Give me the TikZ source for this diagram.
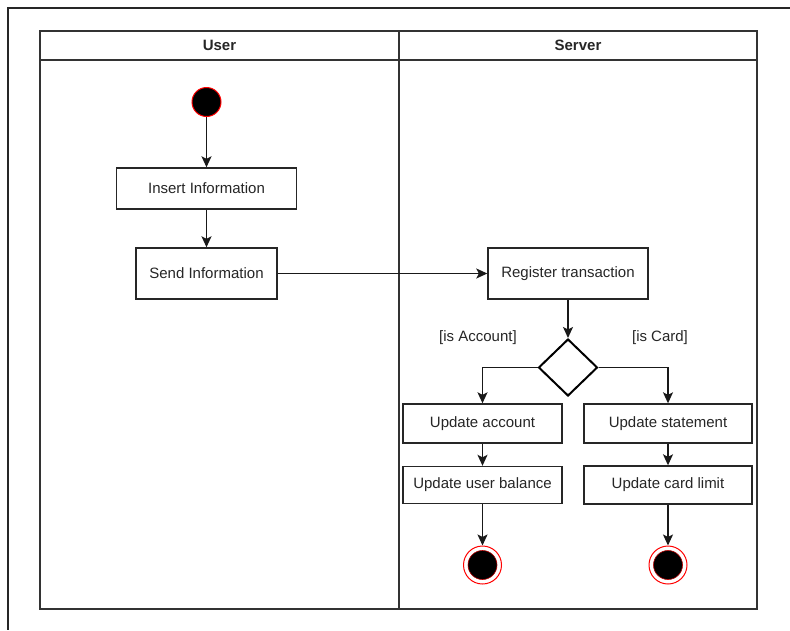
\documentclass[tikz,border=0pt]{standalone}
\usepackage{fontspec}
\setmainfont{Liberation Sans}
\usetikzlibrary{arrows.meta,shapes.geometric}
\begin{document}
\begin{tikzpicture}[x=1pt,y=-1pt,
  every node/.style={font=\fontsize{15}{18}\selectfont, text=black!85},
  action/.style={draw=black!85, line width=1.4pt, fill=white, rectangle, inner sep=0pt},
  decision/.style={draw=black, line width=2pt, fill=white, diamond, inner sep=0pt,
    minimum width=59pt, minimum height=57pt},
  startstate/.style={circle, fill=black, draw=red, line width=1pt, inner sep=0pt, minimum size=29pt},
  endring/.style={circle, fill=white, draw=red, line width=1pt, inner sep=0pt, minimum size=38pt},
  endcore/.style={circle, fill=black, draw=red!70!black, line width=0.6pt, inner sep=0pt, minimum size=29pt},
  flow/.style={draw=black!90, line width=1.4pt, -{Stealth[length=11pt,width=10pt,inset=2.5pt]}},
  lane/.style={draw=black!80, line width=1.5pt},
  guard/.style={font=\fontsize{15}{18}\selectfont},
]
\useasboundingbox (0,0) rectangle (790,630);

% open frame along the top and left edges
\draw[black!85, line width=1.2pt] (790,8) -- (8,8) -- (8,630);

% swimlane pool
\draw[lane] (40,31) rectangle (757,609);
\draw[lane] (40,60) -- (757,60);
\draw[lane] (399,31) -- (399,609);
\node[font=\bfseries\fontsize{15}{18}\selectfont] (userlane) at (219.5,45.5) {User};
\node[font=\bfseries\fontsize{15}{18}\selectfont] (serverlane) at (578,45.5) {Server};

% user lane
\node[startstate] (start) at (206.5,102) {};
\node[action, minimum width=180pt, minimum height=41pt] (insert) at (206.5,188.5) {Insert Information};
\node[action, minimum width=141pt, minimum height=51pt] (send) at (206.5,273.5) {Send Information};

% server lane
\node[action, minimum width=160pt, minimum height=51pt] (register) at (568,273.5) {Register transaction};
\node[decision] (dec) at (568,367.5) {};
\node[guard] (gacct) at (478,338) {[is Account]};
\node[guard] (gcard) at (660,338) {[is Card]};
\node[action, minimum width=159pt, minimum height=39pt] (acct) at (482.5,423.5) {Update account};
\node[action, minimum width=168pt, minimum height=39pt] (stmt) at (668,423.5) {Update statement};
\node[action, minimum width=159pt, minimum height=37pt] (bal) at (482.5,485) {Update user balance};
\node[action, minimum width=168pt, minimum height=38pt] (limit) at (668,485) {Update card limit};

\node[endring] (end1) at (482.5,565) {};
\node[endcore] (end1c) at (end1) {};
\node[endring] (end2) at (668,565) {};
\node[endcore] (end2c) at (end2) {};

% control flow
\draw[flow] (start) -- (insert);
\draw[flow] (insert) -- (send);
\draw[flow] (send) -- (register);
\draw[flow] (register) -- (dec);
\draw[flow] (dec.west) -| (acct);
\draw[flow] (dec.east) -| (stmt);
\draw[flow] (acct) -- (bal);
\draw[flow] (stmt) -- (limit);
\draw[flow] (bal) -- (end1);
\draw[flow] (limit) -- (end2);
\end{tikzpicture}
\end{document}
